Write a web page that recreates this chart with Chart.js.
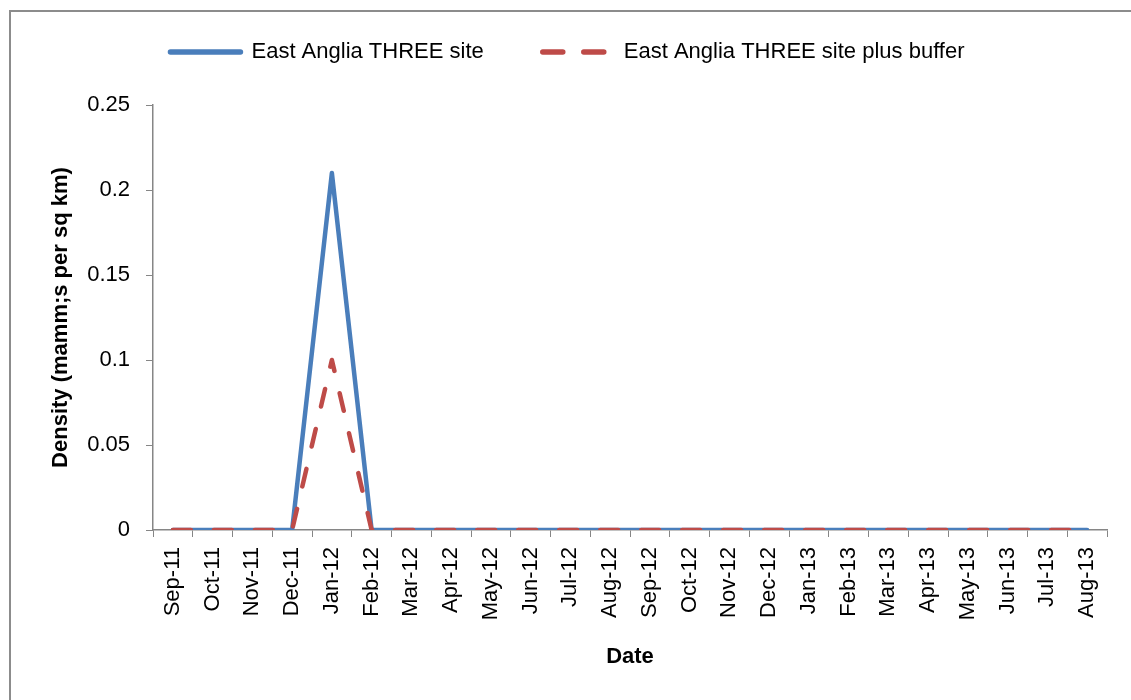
<!DOCTYPE html>
<html>
<head>
<meta charset="utf-8">
<script src="https://cdn.jsdelivr.net/npm/chart.js@4.4.1/dist/chart.umd.min.js"></script>
<style>
  html, body { margin: 0; padding: 0; background: #fff; }
  #frame { position: absolute; left: 9px; top: 10px; width: 1200px; height: 800px; border: 2px solid #8c8c8c; box-sizing: border-box; }
  #wrap { position: absolute; left: 0; top: 0; width: 1131px; height: 700px; }
</style>
</head>
<body>
<div id="frame"></div>
<div id="wrap"><canvas id="lineChart"></canvas></div>
<script>
var months = ['Sep-11', 'Oct-11', 'Nov-11', 'Dec-11', 'Jan-12', 'Feb-12', 'Mar-12', 'Apr-12',
  'May-12', 'Jun-12', 'Jul-12', 'Aug-12', 'Sep-12', 'Oct-12', 'Nov-12', 'Dec-12',
  'Jan-13', 'Feb-13', 'Mar-13', 'Apr-13', 'May-13', 'Jun-13', 'Jul-13', 'Aug-13'];
var siteDensity   = [0, 0, 0, 0, 0.21, 0, 0, 0, 0, 0, 0, 0, 0, 0, 0, 0, 0, 0, 0, 0, 0, 0, 0, 0];
var bufferDensity = [0, 0, 0, 0, 0.1,  0, 0, 0, 0, 0, 0, 0, 0, 0, 0, 0, 0, 0, 0, 0, 0, 0, 0, 0];
var yTicks = [0, 0.05, 0.1, 0.15, 0.2, 0.25];

var axisGrey = '#868686';
Chart.defaults.font.family = '"Liberation Sans", Arial, sans-serif';
Chart.defaults.color = '#000';

// nudge the legend: extra room under it and a small shift of where it is drawn
var legendNudge = {
  id: 'legendNudge',
  beforeInit: function (chart) {
    var lg = chart.legend;
    var fit = lg.fit;
    lg.fit = function () {
      fit.apply(this, arguments);
      this.height += 14;
    };
    var draw = lg._draw;
    lg._draw = function () {
      this.ctx.save();
      this.ctx.translate(-6, -18);
      draw.apply(this, arguments);
      this.ctx.restore();
    };
  }
};

var ctx = document.getElementById('lineChart');
var lineChart = new Chart(ctx, {
  type: 'line',
  data: {
    labels: months,
    datasets: [{
      label: 'East Anglia THREE site',
      data: siteDensity,
      borderColor: '#4a7ebb',
      backgroundColor: '#4a7ebb',
      borderWidth: 4.5,
      borderJoinStyle: 'round',
      borderCapStyle: 'round',
      pointRadius: 0,
      tension: 0,
      order: 1
    }, {
      label: 'East Anglia THREE site plus buffer',
      data: bufferDensity,
      borderColor: '#be4b48',
      backgroundColor: '#be4b48',
      borderWidth: 4.5,
      borderDash: [18, 23],
      borderCapStyle: 'round',
      borderJoinStyle: 'round',
      pointRadius: 0,
      tension: 0,
      order: 0
    }]
  },
  plugins: [legendNudge],
  options: {
    responsive: true,
    maintainAspectRatio: false,
    animation: false,
    layout: { padding: { left: 40, right: 24, top: 0, bottom: 20 } },
    plugins: {
      tooltip: { enabled: false },
      legend: {
        position: 'top',
        labels: {
          usePointStyle: true,
          pointStyle: 'line',
          pointStyleWidth: 70,
          padding: 59,
          font: { size: 22 },
          sort: function (a, b) { return a.datasetIndex - b.datasetIndex; },
          generateLabels: function (chart) {
            var items = Chart.defaults.plugins.legend.labels.generateLabels(chart);
            items.forEach(function (it) {
              var ds = chart.data.datasets[it.datasetIndex];
              it.lineDash = ds.borderDash ? [20, 21] : [];
              it.lineCap = 'round';
              it.lineWidth = 5.5;
            });
            return items;
          }
        }
      }
    },
    scales: {
      x: {
        offset: true,
        grid: { offset: true, drawOnChartArea: false, drawTicks: true, tickLength: 7, color: axisGrey },
        border: { display: true, color: axisGrey, width: 1.5 },
        ticks: { minRotation: 90, maxRotation: 90, autoSkip: false, padding: 10, font: { size: 22 } },
        title: { display: true, text: 'Date', font: { size: 22, weight: 'bold' }, padding: { top: 4, bottom: 10 } },
        afterFit: function (scale) { scale.height = 150; }
      },
      y: {
        min: 0,
        max: 0.25,
        afterBuildTicks: function (scale) { scale.ticks = yTicks.map(function (v) { return { value: v }; }); },
        grid: { drawOnChartArea: false, drawTicks: true, tickLength: 7, color: axisGrey },
        border: { display: true, color: axisGrey, width: 1.5 },
        ticks: {
          padding: 16,
          font: { size: 22 },
          callback: function (v) { return String(+v.toFixed(2)); }
        },
        title: { display: true, text: 'Density (mamm;s per sq km)', font: { size: 22, weight: 'bold' }, padding: { top: 8, bottom: 4 } },
        afterFit: function (scale) { scale.width = 113; }
      }
    }
  }
});
</script>
</body>
</html>
